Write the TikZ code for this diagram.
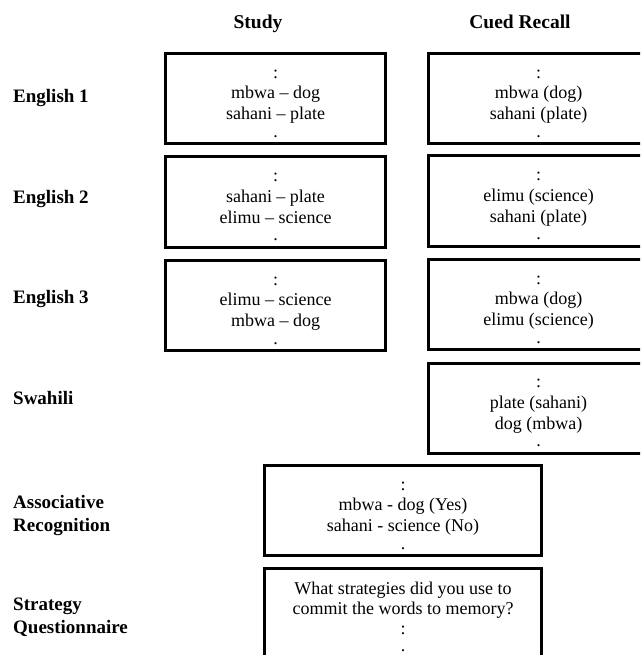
\documentclass[tikz,border=0pt]{standalone}
\usepackage{fontspec}
\setmainfont{Liberation Serif}
\begin{document}
\begin{tikzpicture}[x=1pt,y=-1pt,
  box/.style={draw=black, line width=3pt, minimum width=220pt, minimum height=90pt, inner sep=0pt},
  widebox/.style={box, minimum width=277pt},
  wordtxt/.style={align=center, font=\fontsize{18}{20.7}\selectfont, inner sep=0pt, anchor=north},
  lbl/.style={font=\bfseries\fontsize{19}{23}\selectfont, inner sep=0pt, align=left},
  hdr/.style={font=\bfseries\fontsize{19.5}{23}\selectfont, anchor=base, inner sep=0pt}]
\useasboundingbox (0,0) rectangle (640,655);
\clip (0,0) rectangle (640,655);

% headers
\node[hdr] (hs) at (258,28.5) {Study};
\node[hdr] (hc) at (520,28.5) {Cued Recall};

% row labels
\node[lbl, anchor=base west] (l1) at (13,103) {English 1};
\node[lbl, anchor=base west] (l2) at (13,203) {English 2};
\node[lbl, anchor=base west] (l3) at (13,303) {English 3};
\node[lbl, anchor=base west] (l4) at (13,404) {Swahili};
\node[lbl, anchor=north west] (l5) at (13,495) {Associative\\Recognition};
\node[lbl, anchor=north west] (l6) at (13,598) {Strategy\\Questionnaire};

% study boxes
\node[box] (s1) at (275.5,98.5) {};
\node[box] (s2) at (275.5,202) {};
\node[box] (s3) at (275.5,305.5) {};
\node[wordtxt] (ts1) at ([yshift=-17.6pt]s1.north) {:\\mbwa – dog\\sahani – plate\\[-3pt].};
\node[wordtxt] (ts2) at ([yshift=-17.6pt]s2.north) {:\\sahani – plate\\elimu – science\\[-3pt].};
\node[wordtxt] (ts3) at ([yshift=-17.6pt]s3.north) {:\\elimu – science\\mbwa – dog\\[-3pt].};

% cued recall boxes
\node[box] (c1) at (538.5,98.5) {};
\node[box] (c2) at (538.5,201) {};
\node[box] (c3) at (538.5,304.5) {};
\node[box] (c4) at (538.5,408) {};
\node[wordtxt] (tc1) at ([yshift=-17.6pt]c1.north) {:\\mbwa (dog)\\sahani (plate)\\[-3pt].};
\node[wordtxt] (tc2) at ([yshift=-17.6pt]c2.north) {:\\elimu (science)\\sahani (plate)\\[-3pt].};
\node[wordtxt] (tc3) at ([yshift=-17.6pt]c3.north) {:\\mbwa (dog)\\elimu (science)\\[-3pt].};
\node[wordtxt] (tc4) at ([yshift=-17.6pt]c4.north) {:\\plate (sahani)\\dog (mbwa)\\[-3pt].};

% associative recognition
\node[widebox] (ar) at (403,510.5) {};
\node[wordtxt] (tar) at ([yshift=-17.6pt]ar.north) {:\\mbwa - dog (Yes)\\sahani - science (No)\\[-3pt].};

% strategy questionnaire
\node[widebox, minimum height=120pt] (sq) at (403,628.5) {};
\node[wordtxt, font=\fontsize{18}{20}\selectfont] (tsq) at ([yshift=-14.5pt]sq.north) {What strategies did you use to\\commit the words to memory?\\:\\[-3pt].};
\end{tikzpicture}
\end{document}
